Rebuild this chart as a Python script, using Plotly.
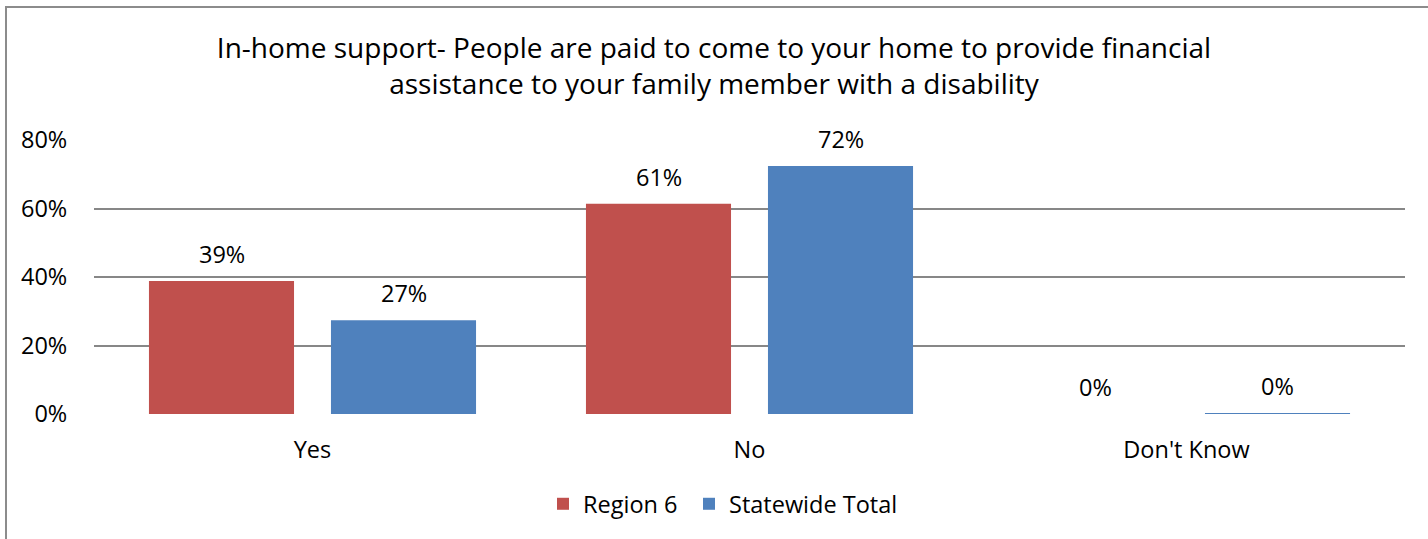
import plotly.graph_objects as go

categories = ["Yes", "No", "Don't Know"]
region6 = [0.388, 0.614, 0.0]
statewide = [0.274, 0.724, 0.002]
series_names = ["Region 6", "Statewide Total"]
colors = ["#C0504D", "#4F81BD"]
y_ticks = [0, 0.2, 0.4, 0.6, 0.8]
y_tick_labels = ["0%", "20%", "40%", "60%", "80%"]

FONT = "'Open Sans', sans-serif"
TXT = 23.5
W, H = 1428, 539

fig = go.Figure()
for name, vals, col, leg in zip(series_names, [region6, statewide], colors, ["legend", "legend2"]):
    fig.add_trace(go.Bar(x=categories, y=vals, name=name, marker_color=col,
                         marker_line_width=0, legend=leg))

# value labels above each bar
for vals, shift in [(region6, -91), (statewide, 91)]:
    for c, v in zip(categories, vals):
        fig.add_annotation(x=c, y=v, xref="x", yref="y", text=f"{round(v*100):.0f}%",
                           showarrow=False, yanchor="bottom", xshift=shift, yshift=9,
                           font=dict(family=FONT, size=TXT, color="#000"))

# outer chart frame
fig.add_shape(type="rect", xref="paper", yref="paper",
              x0=-88/1311, x1=1.2, y0=-0.6, y1=(539-7-125)/274,
              line=dict(color="#8c8c8c", width=2), fillcolor="rgba(0,0,0,0)", layer="below")

legend_style = dict(orientation="h", xref="container", yref="container", xanchor="left",
                    y=1 - 482 / H, yanchor="top", font=dict(family=FONT, size=TXT),
                    itemwidth=30, bgcolor="rgba(0,0,0,0)")

fig.update_layout(
    width=W, height=H,
    margin=dict(l=94, r=23, t=140, b=125),
    paper_bgcolor="white", plot_bgcolor="white",
    title=dict(text="In-home support- People are paid to come to your home to provide financial<br>assistance to your family member with a disability",
               x=0.5, xanchor="center", y=0.893, yanchor="middle",
               font=dict(family=FONT, size=28, color="#000")),
    barmode="group", bargap=0.167, bargroupgap=0.203,
    font=dict(family=FONT, size=TXT, color="#000"),
    legend=dict(x=543 / W, **legend_style),
    legend2=dict(x=689 / W, **legend_style),
    showlegend=True,
)
fig.update_yaxes(range=[0, 0.8], tickvals=y_ticks, ticktext=y_tick_labels,
                 showgrid=True, gridcolor="#878787", gridwidth=1.5, zeroline=False,
                 ticks="outside", ticklen=21, tickcolor="rgba(0,0,0,0)",
                 tickfont=dict(family=FONT, size=TXT))
fig.update_xaxes(showline=False, ticks="outside", ticklen=15, tickcolor="rgba(0,0,0,0)",
                 tickfont=dict(family=FONT, size=TXT))

fig.write_html("out.html")
